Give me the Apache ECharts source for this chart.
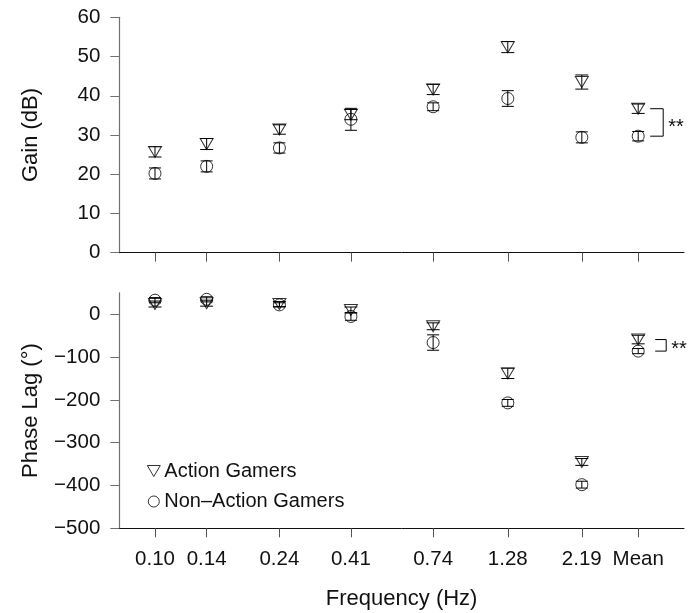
<!DOCTYPE html>
<html><head><meta charset="utf-8">
<script src="https://cdn.jsdelivr.net/npm/echarts@6/dist/echarts.min.js"></script>
<style>html,body{margin:0;padding:0;background:#fff}#c{width:694px;height:613px}</style>
</head><body><div id="c"></div>
<script>
// ---- data ----
const freqLabels = ['0.10', '0.14', '0.24', '0.41', '0.74', '1.28', '2.19', 'Mean'];
// axis positions (log10 Hz scale as placed in the figure; Mean set to the right)
const xPositions = [-1.000, -0.836, -0.605, -0.378, -0.117, 0.120, 0.355, 0.534];

const gainAction        = [25.7, 27.7, 31.4, 35.2, 41.6, 52.4, 43.5, 36.7];
const gainActionErr     = [1.3, 1.4, 1.2, 1.3, 1.3, 1.4, 1.8, 1.2];
const gainNonAction     = [20.2, 22.0, 26.7, 34.0, 37.2, 39.3, 29.4, 29.7];
const gainNonActionErr  = [1.4, 1.4, 1.3, 2.8, 1.0, 2.0, 1.4, 1.2];

const phaseAction       = [24, 26, 24, 10, -28, -138, -345, -59];
const phaseActionErr    = [7, 7, 6, 7, 8, 12, 8, 10];
const phaseNonAction    = [33, 35, 22, -5, -66, -207, -398, -86];
const phaseNonActionErr = [6, 6, 5, 9, 18, 8, 8, 6];

const gainTicks  = [0, 10, 20, 30, 40, 50, 60];
const phaseTicks = [-500, -400, -300, -200, -100, 0];

const seriesNames = ['Action Gamers', 'Non\u2013Action Gamers'];
const sigLabel = '**';

// ---- rendering ----
const FONT = '"Liberation Sans", Arial, sans-serif';
const TXT = '#111';
const XMIN = -1.1133, XMAX = 0.6794;

function pts(vals) { return xPositions.map((x, i) => [x, vals[i]]); }
function errs(vals, e) { return xPositions.map((x, i) => [x, vals[i] - e[i], vals[i] + e[i]]); }

function errRender(capHalf) {
  return function (params, api) {
    const x = api.value(0);
    const lo = api.coord([x, api.value(1)]);
    const hi = api.coord([x, api.value(2)]);
    const s = { stroke: '#000', lineWidth: 1 };
    return { type: 'group', children: [
      { type: 'line', shape: { x1: lo[0], y1: lo[1], x2: hi[0], y2: hi[1] }, style: s },
      { type: 'line', shape: { x1: lo[0] - capHalf, y1: lo[1], x2: lo[0] + capHalf, y2: lo[1] }, style: s },
      { type: 'line', shape: { x1: hi[0] - capHalf, y1: hi[1], x2: hi[0] + capHalf, y2: hi[1] }, style: s }
    ]};
  };
}
function bracketRender(x0, x1, tx, dy) {
  return function (params, api) {
    const x = api.value(0);
    const p1 = api.coord([x, api.value(1)]);
    const p2 = api.coord([x, api.value(2)]);
    return { type: 'group', children: [
      { type: 'polyline', shape: { points: [[p1[0] + x0, p1[1]], [p1[0] + x1, p1[1]], [p1[0] + x1, p2[1]], [p1[0] + x0, p2[1]]] },
        style: { stroke: '#000', lineWidth: 1, fill: null } },
      { type: 'text', style: { text: sigLabel, x: p1[0] + tx, y: (p1[1] + p2[1]) / 2 + dy,
        font: '20px ' + FONT, fill: TXT, verticalAlign: 'middle', align: 'left' } }
    ]};
  };
}

const markerStyle = { color: 'rgba(0,0,0,0)', borderColor: '#000', borderWidth: 1 };
const triSym = { symbol: 'triangle', symbolRotate: 180, symbolSize: [13, 11] };
const cirSym = { symbol: 'circle', symbolSize: 12 };

function xAxis(gi, withLabels) {
  const a = {
    gridIndex: gi, type: 'value', min: XMIN, max: XMAX,
    axisLine: { show: true, onZero: false, lineStyle: { color: '#111', width: 1 } },
    axisTick: { show: true, customValues: xPositions, length: 9, lineStyle: { color: '#555' } },
    axisLabel: { show: false },
    splitLine: { show: false }
  };
  if (withLabels) {
    a.axisLabel = {
      show: true, customValues: xPositions, margin: 21, color: TXT, fontSize: 20.5, fontFamily: FONT,
      formatter: function (v) {
        let best = 0;
        xPositions.forEach((p, i) => { if (Math.abs(p - v) < Math.abs(xPositions[best] - v)) best = i; });
        return freqLabels[best];
      }
    };
    a.name = 'Frequency (Hz)';
    a.nameLocation = 'middle';
    a.nameGap = 60;
    a.nameTextStyle = { color: TXT, fontSize: 22, fontFamily: FONT };
  }
  return a;
}
function yAxis(gi, min, max, ticks, name) {
  return {
    gridIndex: gi, type: 'value', min: min, max: max,
    name: name, nameLocation: 'middle', nameGap: 77,
    nameTextStyle: { color: TXT, fontSize: 22, fontFamily: FONT },
    axisLine: { show: true, onZero: false, lineStyle: { color: '#707070', width: 1.2 } },
    axisTick: { show: true, customValues: ticks, length: 9, lineStyle: { color: '#707070' } },
    axisLabel: { customValues: ticks, margin: 19, color: TXT, fontSize: 20.5, fontFamily: FONT,
      formatter: function (v) { return String(v).replace('-', '\u2212'); } },
    splitLine: { show: false }
  };
}

const option = {
  backgroundColor: '#fff',
  animation: false,
  grid: [
    { left: 119.3, top: 17.3, width: 564.7, height: 235.4 },
    { left: 119.3, top: 292.9, width: 564.7, height: 235.4 }
  ],
  xAxis: [xAxis(0, false), xAxis(1, true)],
  yAxis: [yAxis(0, 0, 60, gainTicks, 'Gain (dB)'), yAxis(1, -500, 50, phaseTicks, 'Phase Lag (\u00b0)')],
  legend: {
    orient: 'vertical', left: 141.8, top: 454, itemGap: 6.5, itemWidth: 13, itemHeight: 11,
    selectedMode: false,
    textStyle: { color: TXT, fontSize: 20, fontFamily: FONT, lineHeight: 24, padding: [0, 0, 0, -1] },
    data: [
      { name: seriesNames[0], icon: 'path://M0,0 L13,0 L6.5,11 Z', itemStyle: { color: 'rgba(0,0,0,0)', borderColor: '#000', borderWidth: 1 } },
      { name: seriesNames[1], icon: 'circle', itemStyle: { color: 'rgba(0,0,0,0)', borderColor: '#000', borderWidth: 1 } }
    ]
  },
  series: [
    Object.assign({ type: 'scatter', name: seriesNames[0], xAxisIndex: 0, yAxisIndex: 0, data: pts(gainAction), itemStyle: markerStyle }, triSym),
    Object.assign({ type: 'scatter', name: seriesNames[1], xAxisIndex: 0, yAxisIndex: 0, data: pts(gainNonAction), itemStyle: markerStyle }, cirSym),
    Object.assign({ type: 'scatter', name: seriesNames[0], xAxisIndex: 1, yAxisIndex: 1, data: pts(phaseAction), itemStyle: markerStyle }, triSym),
    Object.assign({ type: 'scatter', name: seriesNames[1], xAxisIndex: 1, yAxisIndex: 1, data: pts(phaseNonAction), itemStyle: markerStyle }, cirSym),
    { type: 'custom', xAxisIndex: 0, yAxisIndex: 0, data: errs(gainAction, gainActionErr), renderItem: errRender(6.5), encode: { x: 0, y: [1, 2] }, z: 3 },
    { type: 'custom', xAxisIndex: 0, yAxisIndex: 0, data: errs(gainNonAction, gainNonActionErr), renderItem: errRender(6), encode: { x: 0, y: [1, 2] }, z: 3 },
    { type: 'custom', xAxisIndex: 1, yAxisIndex: 1, data: errs(phaseAction, phaseActionErr), renderItem: errRender(6.5), encode: { x: 0, y: [1, 2] }, z: 3 },
    { type: 'custom', xAxisIndex: 1, yAxisIndex: 1, data: errs(phaseNonAction, phaseNonActionErr), renderItem: errRender(6), encode: { x: 0, y: [1, 2] }, z: 3 },
    { type: 'custom', xAxisIndex: 0, yAxisIndex: 0, data: [[xPositions[7], gainAction[7], gainNonAction[7]]], renderItem: bracketRender(12, 25, 30, 5), encode: { x: 0, y: [1, 2] }, z: 4 },
    { type: 'custom', xAxisIndex: 1, yAxisIndex: 1, data: [[xPositions[7], phaseAction[7], phaseNonAction[7]]], renderItem: bracketRender(17, 28, 33, 4), encode: { x: 0, y: [1, 2] }, z: 4 }
  ]
};
const chart = echarts.init(document.getElementById('c'), null, { renderer: 'canvas' });
chart.setOption(option);
</script>
</body></html>
